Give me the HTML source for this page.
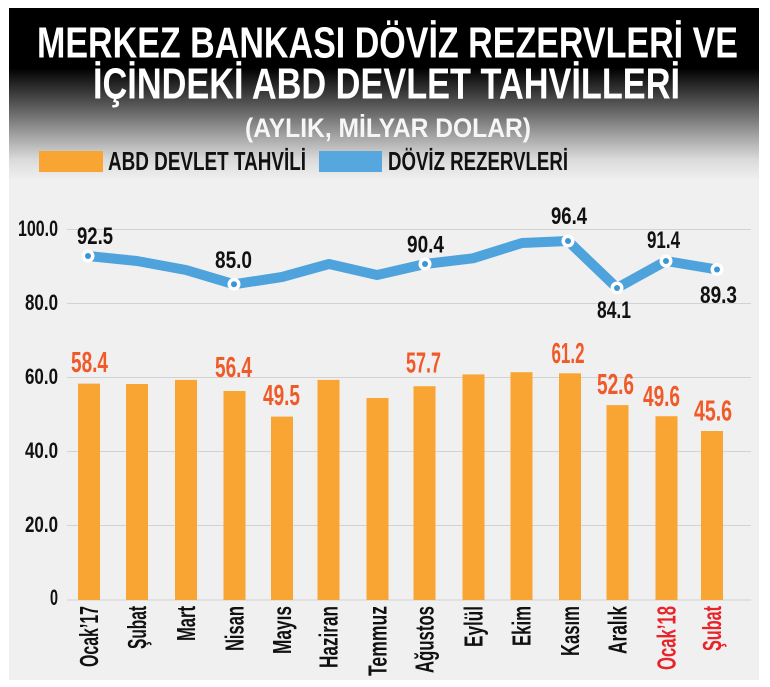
<!DOCTYPE html>
<html>
<head>
<meta charset="utf-8">
<style>
  html, body { margin:0; padding:0; background:#ffffff; }
  body { width:770px; height:687px; overflow:hidden; }
  svg { display:block; }
  text { font-family: "Liberation Sans Narrow", "Liberation Sans", "DejaVu Sans Condensed", sans-serif; font-weight:bold; }
</style>
</head>
<body>
<svg width="770" height="687" viewBox="0 0 770 687" xmlns="http://www.w3.org/2000/svg">
  <defs>
    <linearGradient id="hdr" x1="0" y1="8" x2="0" y2="180" gradientUnits="userSpaceOnUse">
      <stop offset="0" stop-color="#000000"/>
      <stop offset="0.35" stop-color="#000000"/>
      <stop offset="0.58" stop-color="#5e5e5e"/>
      <stop offset="0.75" stop-color="#a6a6a6"/>
      <stop offset="0.88" stop-color="#dadada"/>
      <stop offset="1" stop-color="#f0f0f0"/>
    </linearGradient>
  </defs>

  <!-- panel -->
  <rect x="9" y="8" width="750" height="672" fill="#f0f0f0"/>
  <rect x="9" y="8" width="750" height="172" fill="url(#hdr)"/>

  <!-- title -->
  <text x="37" y="57.5" font-size="44" fill="#ffffff" textLength="701" lengthAdjust="spacingAndGlyphs">MERKEZ BANKASI DÖVİZ REZERVLERİ VE</text>
  <text x="93" y="98.5" font-size="44" fill="#ffffff" textLength="587" lengthAdjust="spacingAndGlyphs">İÇİNDEKİ ABD DEVLET TAHVİLLERİ</text>
  <text x="245" y="137" font-size="27" fill="#f6f6f6" textLength="286" lengthAdjust="spacingAndGlyphs">(AYLIK, MİLYAR DOLAR)</text>

  <!-- legend -->
  <rect x="39" y="151" width="64" height="21" fill="#f9a533"/>
  <text x="108" y="170" font-size="26" fill="#111111" textLength="198" lengthAdjust="spacingAndGlyphs">ABD DEVLET TAHVİLİ</text>
  <rect x="319" y="151" width="63" height="21" fill="#55a7de"/>
  <text x="388" y="170" font-size="26" fill="#111111" textLength="180" lengthAdjust="spacingAndGlyphs">DÖVİZ REZERVLERİ</text>

  <!-- gridlines -->
  <g stroke="#d2d2d2" stroke-width="1">
    <line x1="67" y1="229.5" x2="751" y2="229.5"/>
    <line x1="67" y1="303.5" x2="751" y2="303.5"/>
    <line x1="67" y1="377.5" x2="751" y2="377.5"/>
    <line x1="67" y1="451.5" x2="751" y2="451.5"/>
    <line x1="67" y1="525.5" x2="751" y2="525.5"/>
    <line x1="67" y1="600" x2="751" y2="600"/>
  </g>

  <!-- y ticks -->
  <g font-size="22" fill="#111111" text-anchor="end">
    <text x="58" y="236" textLength="40" lengthAdjust="spacingAndGlyphs">100.0</text>
    <text x="58" y="310" textLength="33" lengthAdjust="spacingAndGlyphs">80.0</text>
    <text x="58" y="384" textLength="33" lengthAdjust="spacingAndGlyphs">60.0</text>
    <text x="58" y="458" textLength="33" lengthAdjust="spacingAndGlyphs">40.0</text>
    <text x="58" y="532" textLength="33" lengthAdjust="spacingAndGlyphs">20.0</text>
    <text x="58" y="605" textLength="8" lengthAdjust="spacingAndGlyphs">0</text>
  </g>

  <!-- bars -->
  <g fill="#f9a533">
    <rect x="78" y="383.6" width="22" height="216.4"/>
    <rect x="126" y="384" width="22" height="216"/>
    <rect x="175" y="379.9" width="22" height="220.1"/>
    <rect x="223.5" y="391" width="22" height="209"/>
    <rect x="271" y="416.6" width="22" height="183.4"/>
    <rect x="317.5" y="379.9" width="22" height="220.1"/>
    <rect x="366.5" y="398" width="22" height="202"/>
    <rect x="413.5" y="386.2" width="22" height="213.8"/>
    <rect x="462.5" y="374.4" width="22" height="225.6"/>
    <rect x="510.5" y="372.2" width="22" height="227.8"/>
    <rect x="559" y="373.3" width="22" height="226.7"/>
    <rect x="606.5" y="405.1" width="22" height="194.9"/>
    <rect x="655.5" y="416.2" width="22" height="183.8"/>
    <rect x="701" y="431" width="22" height="169"/>
  </g>

  <!-- bar labels -->
  <g font-size="28.5" fill="#f05a28" text-anchor="middle">
    <text x="89.5" y="372" textLength="37" lengthAdjust="spacingAndGlyphs">58.4</text>
    <text x="233.5" y="377" textLength="37" lengthAdjust="spacingAndGlyphs">56.4</text>
    <text x="281.5" y="405" textLength="37" lengthAdjust="spacingAndGlyphs">49.5</text>
    <text x="423.5" y="372.5" textLength="35" lengthAdjust="spacingAndGlyphs">57.7</text>
    <text x="568" y="363" textLength="33" lengthAdjust="spacingAndGlyphs">61.2</text>
    <text x="615.5" y="394" textLength="37" lengthAdjust="spacingAndGlyphs">52.6</text>
    <text x="661.5" y="406" textLength="37" lengthAdjust="spacingAndGlyphs">49.6</text>
    <text x="713" y="420.5" textLength="38" lengthAdjust="spacingAndGlyphs">45.6</text>
  </g>

  <!-- line -->
  <polyline fill="none" stroke="#4fa3dc" stroke-width="10" stroke-linejoin="round" stroke-linecap="round"
    points="88,256 137,261 186,270 234,284.3 282,277 329,264 377,275 425,264 473,258.3 522,243 568,241 617,288 666,261 717,269.5"/>
  <g>
    <circle cx="88" cy="256" r="6.5" fill="#ffffff"/><circle cx="88" cy="256" r="3" fill="#3d95d4"/>
    <circle cx="234" cy="284.3" r="6.5" fill="#ffffff"/><circle cx="234" cy="284.3" r="3" fill="#3d95d4"/>
    <circle cx="425" cy="264" r="6.5" fill="#ffffff"/><circle cx="425" cy="264" r="3" fill="#3d95d4"/>
    <circle cx="568" cy="241" r="6.5" fill="#ffffff"/><circle cx="568" cy="241" r="3" fill="#3d95d4"/>
    <circle cx="617" cy="288" r="6.5" fill="#ffffff"/><circle cx="617" cy="288" r="3" fill="#3d95d4"/>
    <circle cx="666" cy="261" r="6.5" fill="#ffffff"/><circle cx="666" cy="261" r="3" fill="#3d95d4"/>
    <circle cx="717" cy="269.5" r="6.5" fill="#ffffff"/><circle cx="717" cy="269.5" r="3" fill="#3d95d4"/>
  </g>

  <!-- line labels -->
  <g font-size="24.5" fill="#111111" text-anchor="middle">
    <text x="95" y="244" textLength="36" lengthAdjust="spacingAndGlyphs">92.5</text>
    <text x="233.5" y="268" textLength="37" lengthAdjust="spacingAndGlyphs">85.0</text>
    <text x="425.5" y="252.5" textLength="37" lengthAdjust="spacingAndGlyphs">90.4</text>
    <text x="569" y="224" textLength="36" lengthAdjust="spacingAndGlyphs">96.4</text>
    <text x="614" y="318" textLength="34" lengthAdjust="spacingAndGlyphs">84.1</text>
    <text x="663.5" y="248" textLength="33" lengthAdjust="spacingAndGlyphs">91.4</text>
    <text x="718.5" y="303" textLength="37" lengthAdjust="spacingAndGlyphs">89.3</text>
  </g>

  <!-- x labels (rotated) -->
  <g font-size="26" fill="#111111" text-anchor="end">
    <text transform="translate(98,606) rotate(-90)" textLength="61" lengthAdjust="spacingAndGlyphs">Ocak’17</text>
    <text transform="translate(146,606) rotate(-90)" textLength="43" lengthAdjust="spacingAndGlyphs">Şubat</text>
    <text transform="translate(195,606) rotate(-90)" textLength="35" lengthAdjust="spacingAndGlyphs">Mart</text>
    <text transform="translate(243.5,606) rotate(-90)" textLength="45" lengthAdjust="spacingAndGlyphs">Nisan</text>
    <text transform="translate(291,606) rotate(-90)" textLength="48" lengthAdjust="spacingAndGlyphs">Mayıs</text>
    <text transform="translate(337.5,606) rotate(-90)" textLength="62" lengthAdjust="spacingAndGlyphs">Haziran</text>
    <text transform="translate(386.5,606) rotate(-90)" textLength="70" lengthAdjust="spacingAndGlyphs">Temmuz</text>
    <text transform="translate(433.5,606) rotate(-90)" textLength="67" lengthAdjust="spacingAndGlyphs">Ağustos</text>
    <text transform="translate(482.5,606) rotate(-90)" textLength="41" lengthAdjust="spacingAndGlyphs">Eylül</text>
    <text transform="translate(530.5,606) rotate(-90)" textLength="40" lengthAdjust="spacingAndGlyphs">Ekim</text>
    <text transform="translate(579,606) rotate(-90)" textLength="50" lengthAdjust="spacingAndGlyphs">Kasım</text>
    <text transform="translate(626.5,606) rotate(-90)" textLength="48" lengthAdjust="spacingAndGlyphs">Aralık</text>
    <text transform="translate(675.5,606) rotate(-90)" textLength="64" lengthAdjust="spacingAndGlyphs" fill="#e8232a">Ocak’18</text>
    <text transform="translate(721,606) rotate(-90)" textLength="45" lengthAdjust="spacingAndGlyphs" fill="#e8232a">Şubat</text>
  </g>
</svg>
</body>
</html>
